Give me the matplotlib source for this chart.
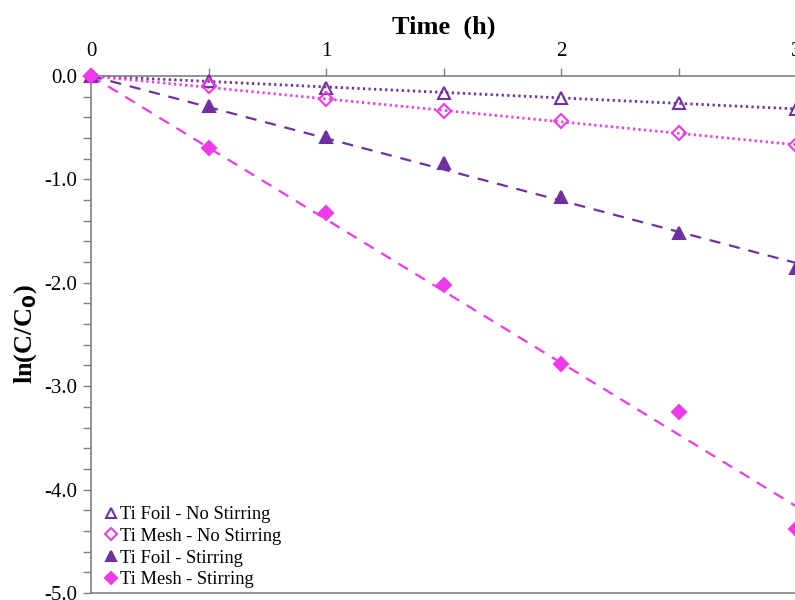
import numpy as np
import matplotlib
matplotlib.use("Agg")
import matplotlib.pyplot as plt
from matplotlib.ticker import MultipleLocator

plt.rcParams['font.family'] = ['Liberation Serif', 'DejaVu Serif']

# datos
t = np.array([0, 0.5, 1, 1.5, 2, 2.5, 3])
foil_no = np.array([0, -0.05, -0.12, -0.16, -0.21, -0.26, -0.32])
mesh_no = np.array([0, -0.10, -0.22, -0.34, -0.44, -0.55, -0.67])
foil_st = np.array([0, -0.29, -0.59, -0.84, -1.17, -1.52, -1.86])
mesh_st = np.array([0, -0.70, -1.33, -2.02, -2.79, -3.25, -4.38])

labels = ['Ti Foil - No Stirring', 'Ti Mesh - No Stirring',
          'Ti Foil - Stirring', 'Ti Mesh - Stirring']

purple = '#7030A0'
magenta = '#EE3AE8'

series = [
    (foil_no, '^', purple, 'none', ':'),
    (mesh_no, 'D', magenta, 'none', ':'),
    (foil_st, '^', purple, purple, '--'),
    (mesh_st, 'D', magenta, magenta, '--'),
]

fig = plt.figure(figsize=(7.95, 6), dpi=100)
ax = fig.add_axes([0.1145, 0.0117, 0.8868, 0.8617])

# lineas de tendencia por el origen
for (y, m, c, fc, ls), lab in zip(series, labels):
    k = np.sum(t * y) / np.sum(t * t)
    tt = np.array([t[0], t[-1]])
    if ls == ':':
        ax.plot(tt, k * tt, color=c, lw=2.0, dashes=(0.8, 1.2), clip_on=False)
    else:
        ax.plot(tt, k * tt, color=c, lw=1.6, dashes=(5, 4), clip_on=False)

for (y, m, c, fc, ls), lab in zip(series, labels):
    ms = 9 if m == '^' else 7.5
    ax.plot(t, y, linestyle='none', marker=m, markersize=ms, markerfacecolor=fc,
            markeredgecolor=c, markeredgewidth=1.5, label=lab, clip_on=False, zorder=5)

ax.set_xlim(0, 3)
ax.set_ylim(-5, 0)
ax.xaxis.tick_top()
ax.xaxis.set_label_position('top')
ax.xaxis.set_major_locator(MultipleLocator(1))
ax.xaxis.set_minor_locator(MultipleLocator(0.5))
ax.yaxis.set_major_locator(MultipleLocator(1))
ax.yaxis.set_minor_locator(MultipleLocator(0.2))
ax.set_yticklabels(['%.1f' % v for v in ax.get_yticks()])
ax.tick_params(axis='both', which='both', direction='out', colors='#808080',
               labelcolor='black', labelsize=15, width=1, length=6)
ax.tick_params(axis='x', pad=5)
ax.tick_params(axis='y', pad=4)

for s in ['left', 'top', 'bottom']:
    ax.spines[s].set_color('#808080')
    ax.spines[s].set_linewidth(1.2)
ax.spines['right'].set_visible(False)

ax.set_xlabel('Time  (h)', fontsize=19, fontweight='bold', labelpad=6)
ax.set_ylabel('ln(C/C$_\\mathbf{0}$)', fontsize=19, fontweight='bold', labelpad=4)

ax.legend(loc='lower left', frameon=False, fontsize=13.3, handlelength=0.6,
          handletextpad=0.2, labelspacing=0.25, borderaxespad=0.0,
          bbox_to_anchor=(0.01, -0.005), markerscale=0.85)

plt.savefig('out.png', dpi=100)
